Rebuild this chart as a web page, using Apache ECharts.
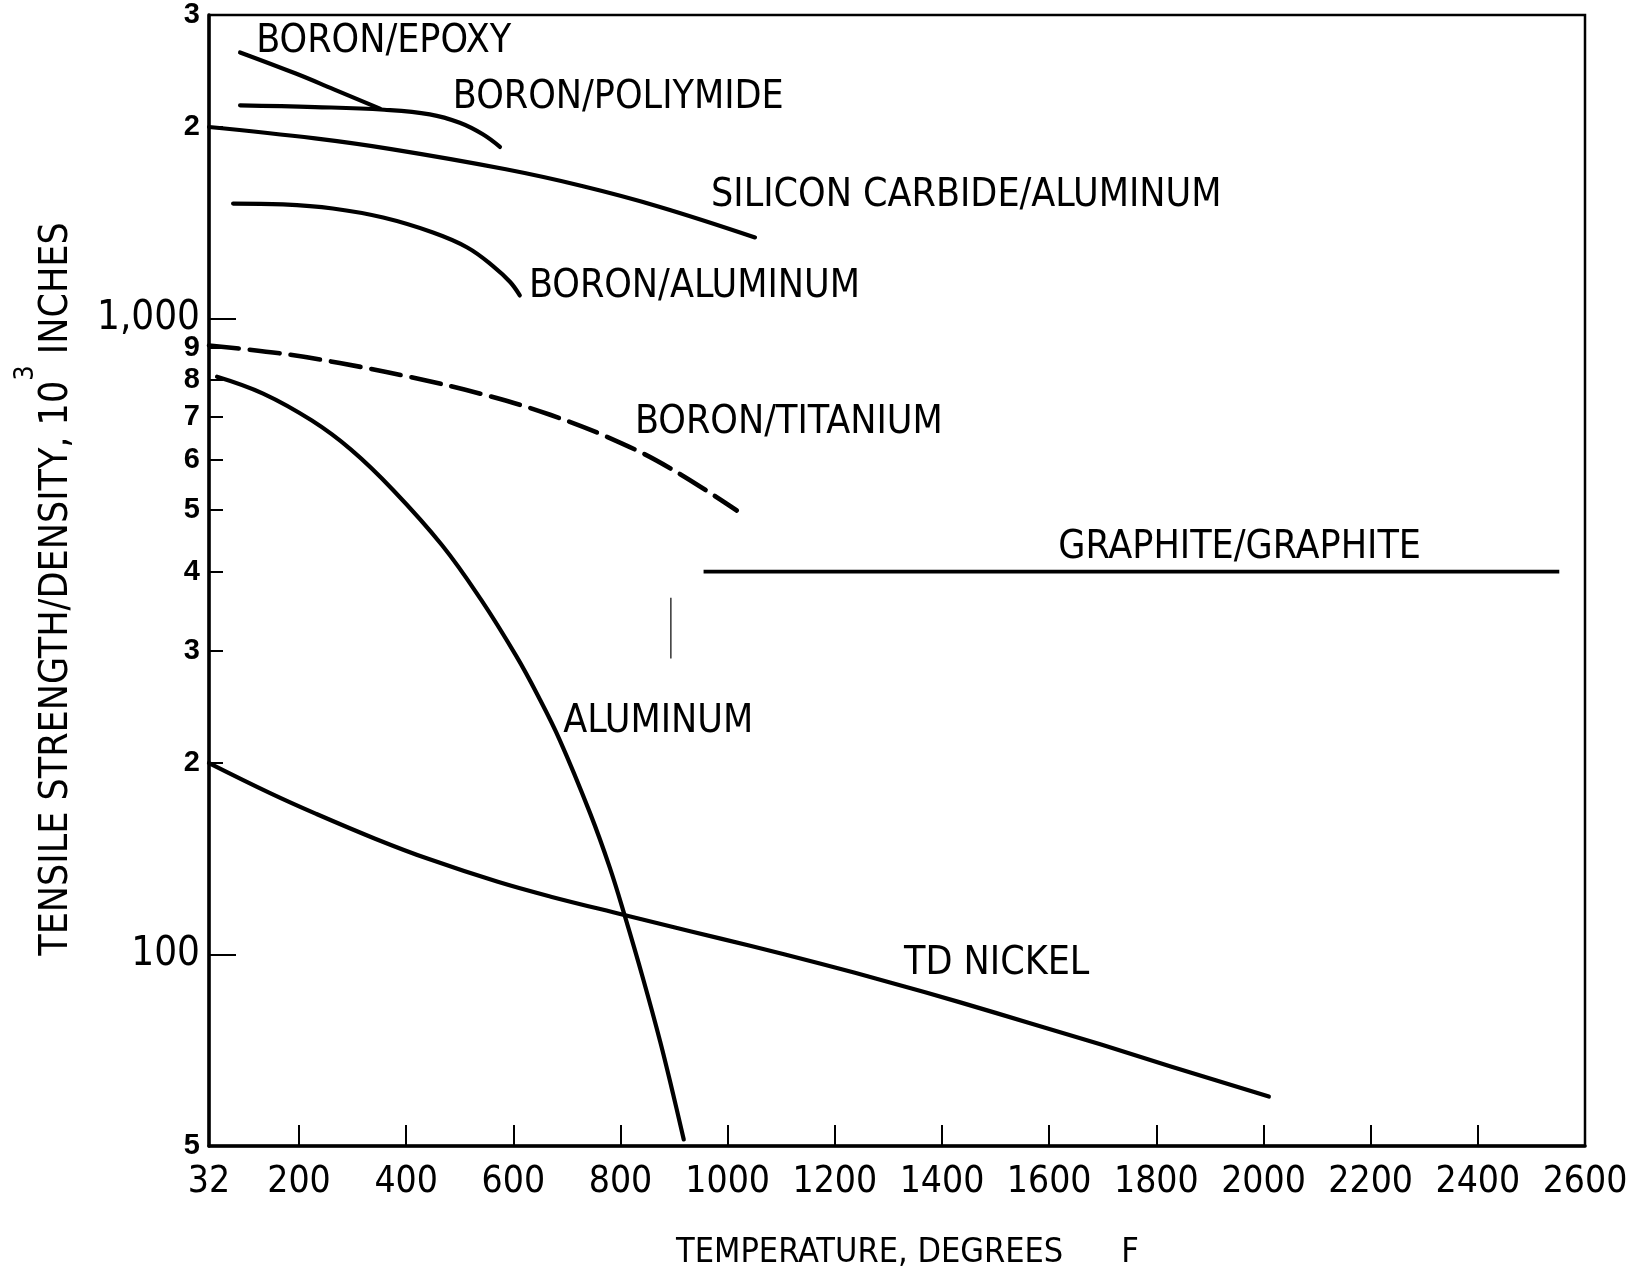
<!DOCTYPE html>
<html><head><meta charset="utf-8">
<script src="https://cdn.jsdelivr.net/npm/echarts@6/dist/echarts.min.js"></script>
<style>html,body{margin:0;padding:0;background:#fff}#c{width:1635px;height:1275px}</style>
</head><body><div id="c"></div>
<script>
// ---- axis ticks / labels ----
const xTickValues = [200,400,600,800,1000,1200,1400,1600,1800,2000,2200,2400];
const xLabelValues = [32,200,400,600,800,1000,1200,1400,1600,1800,2000,2200,2400,2600];
const yLabelValues = [50,100,200,300,400,500,600,700,800,900,1000,2000,3000];
const yLabelTexts  = ['5','100','2','3','4','5','6','7','8','9','1,000','2','3'];
const yShortTicks = [200,300,400,500,600,700,800,900,2000,3000];
const yLongTicks = [100,1000];

// ---- series values [temperature F, strength/density 10^3 in] ----
const boronEpoxy = [[90,2620],[194,2427],[265,2292],[351,2138]];
const boronPolyimide = [[90,2163],[230,2150],[359,2129],[444,2094],[500,2031],[543,1948],[575,1861]];
const siliconCarbideAl = [[32,2000],[230,1919],[372,1846],[586,1716],[730,1614],[872,1499],[1051,1341]];
const boronAluminum = [[77,1516],[170,1511],[263,1489],[357,1441],[450,1365],[514,1293],[562,1209],[594,1141],[612,1087]];
const boronTitanium = [[32,907],[166,881],[276,851],[407,809],[540,761],[670,705],[801,637],[898,578],[1017,499]];
const graphiteGraphite = [[955,400],[2552,400]];
const markLineVals = [[894,364],[894,292]];
const aluminum = [[47,810],[133,762],[224,691],[297,622],[375,538],[467,440],[540,361],[605,295],[644,257],[687,217],[743,167],[780,137],[808,115],[842,91.7],[874,73.0],[898,60.4],[918,51.2]];
const tdNickel = [[32,200],[146,179.4],[232,166.4],[342,152.1],[441,141.4],[571,130.1],[670,123.3],[807,115.4],[932,108.7],[1042,103.2],[1172,96.8],[1303,90.4],[1434,84.1],[1566,77.9],[1697,72.2],[1827,66.7],[2010,59.8]];

// ---- curve labels [T, V, text] ----
const curveLabels = [
  [120,2726,'BORON/EPOXY'],
  [487,2226,'BORON/POLIYMIDE'],
  [969,1561,'SILICON CARBIDE/ALUMINUM'],
  [629,1123,'BORON/ALUMINUM'],
  [827,686,'BORON/TITANIUM'],
  [1617,436,'GRAPHITE/GRAPHITE'],
  [693,232,'ALUMINUM'],
  [1329,96.8,'TD NICKEL']
];

const NARROW = "'Liberation Sans Narrow','DejaVu Sans Condensed','Arial Narrow',sans-serif";
const BOLD = "'Liberation Sans',Arial,sans-serif";

function lineSeries(name, data, extra) {
  return Object.assign({
    name: name, type: 'line', data: data, showSymbol: false, smooth: 0.4,
    silent: true, animation: false,
    lineStyle: { color: '#000', width: 4.2, cap: 'round', join: 'round' }
  }, extra || {});
}

const chart = echarts.init(document.getElementById('c'), null, { renderer: 'canvas' });
chart.setOption({
  backgroundColor: '#fff',
  animation: false,
  grid: { left: 209, right: 50, top: 15, bottom: 129, show: true, borderColor: '#000', borderWidth: 2.5, backgroundColor: 'transparent' },
  xAxis: {
    type: 'value', min: 32, max: 2600,
    axisLine: { lineStyle: { color: '#000', width: 3.5 } },
    axisTick: { inside: true, length: 21, lineStyle: { color: '#000', width: 2 }, customValues: xTickValues },
    axisLabel: { customValues: xLabelValues, color: '#000', fontFamily: NARROW, fontSize: 37, margin: 18,
      formatter: function (v) { return String(Math.round(v)); } },
    splitLine: { show: false }
  },
  yAxis: [
    {
      type: 'log', logBase: 10, min: 50, max: 3000, position: 'left',
      axisLine: { show: true, lineStyle: { color: '#000', width: 3.5 } },
      axisTick: { show: true, inside: true, length: 14, lineStyle: { color: '#000', width: 2 }, customValues: yShortTicks },
      axisLabel: {
        customValues: yLabelValues, margin: 9,
        color: '#000', fontFamily: BOLD, fontWeight: 'bold', fontSize: 29,
        formatter: function (v) {
          let idx = -1;
          for (let i = 0; i < yLabelValues.length; i++) {
            if (Math.abs(yLabelValues[i] - v) / yLabelValues[i] < 0.01) { idx = i; break; }
          }
          if (idx < 0) return '';
          const t = yLabelTexts[idx];
          return (t === '1,000' || t === '100') ? '{big|' + t + '}' : '{sm|' + t + '}';
        },
        rich: {
          big: { fontFamily: NARROW, fontWeight: 'normal', fontSize: 40, color: '#000' },
          sm: { fontFamily: BOLD, fontWeight: 'bold', fontSize: 29, color: '#000' }
        }
      },
      splitLine: { show: false }
    },
    {
      type: 'log', logBase: 10, min: 50, max: 3000, position: 'left', offset: 0,
      axisLine: { show: false },
      axisTick: { show: true, inside: true, length: 27, lineStyle: { color: '#000', width: 2 }, customValues: yLongTicks },
      axisLabel: { show: false },
      splitLine: { show: false }
    }
  ],
  series: [
    lineSeries('BORON/EPOXY', boronEpoxy),
    lineSeries('BORON/POLIYMIDE', boronPolyimide),
    lineSeries('SILICON CARBIDE/ALUMINUM', siliconCarbideAl),
    lineSeries('BORON/ALUMINUM', boronAluminum),
    lineSeries('BORON/TITANIUM', boronTitanium, { lineStyle: { color: '#000', width: 4.6, type: [30, 11], cap: 'round' } }),
    lineSeries('GRAPHITE/GRAPHITE', graphiteGraphite, { smooth: false, lineStyle: { color: '#000', width: 3.6 } }),
    lineSeries('marker', markLineVals, { smooth: false, lineStyle: { color: '#000', width: 1.2 } }),
    lineSeries('ALUMINUM', aluminum),
    lineSeries('TD NICKEL', tdNickel),
    {
      type: 'scatter', data: curveLabels, symbolSize: 0, silent: true, animation: false,
      itemStyle: { opacity: 1 },
      label: {
        show: true, position: 'right', distance: 0, opacity: 1,
        formatter: function (p) { return p.data[2]; },
        fontFamily: NARROW, fontSize: 39, color: '#000'
      }
    }
  ],
  graphic: [
    {
      type: 'text', x: 676, y: 1253, silent: true,
      style: {
        text: '{a|TEMPERATURE, DEGREES}{g| }{a|F}',
        align: 'left', verticalAlign: 'middle',
        rich: {
          a: { fontFamily: NARROW, fontSize: 34, fill: '#000' },
          g: { width: 58, fontSize: 34 }
        }
      }
    },
    {
      type: 'text', x: 44, y: 589, rotation: Math.PI / 2, silent: true,
      style: {
        text: '{a|TENSILE STRENGTH/DENSITY, 10}{s|3}{a| INCHES}',
        align: 'center', verticalAlign: 'middle',
        rich: {
          a: { fontFamily: NARROW, fontSize: 39, lineHeight: 39, verticalAlign: 'bottom', fill: '#000' },
          s: { fontFamily: NARROW, fontSize: 27, lineHeight: 64, verticalAlign: 'top', fill: '#000' }
        }
      }
    }
  ]
});
</script>
</body></html>
